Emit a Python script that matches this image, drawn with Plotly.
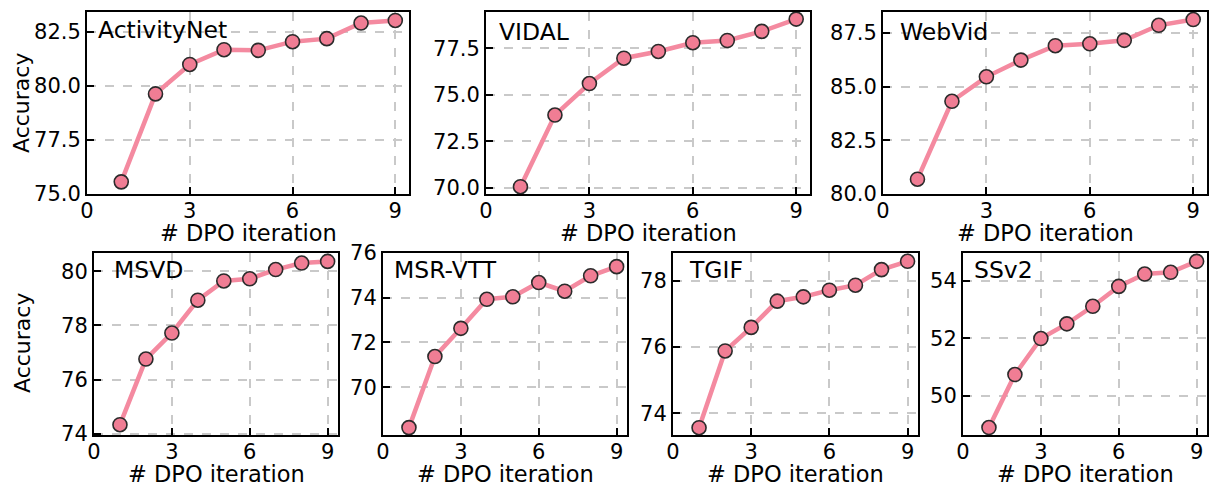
import plotly.graph_objects as go

W, H = 1210, 490

iterations = [1, 2, 3, 4, 5, 6, 7, 8, 9]

names = ["ActivityNet", "VIDAL", "WebVid", "MSVD", "MSR-VTT", "TGIF", "SSv2"]

activitynet = [75.56, 79.62, 80.98, 81.66, 81.63, 82.03, 82.17, 82.89, 83.01]
vidal = [70.07, 73.92, 75.61, 76.97, 77.33, 77.80, 77.92, 78.41, 79.07]
webvid = [80.69, 84.32, 85.46, 86.24, 86.91, 87.00, 87.16, 87.86, 88.13]
msvd = [74.34, 76.76, 77.72, 78.93, 79.64, 79.72, 80.06, 80.30, 80.36]
msrvtt = [68.19, 71.37, 72.63, 73.93, 74.04, 74.68, 74.29, 74.98, 75.39]
tgif = [73.57, 75.88, 76.59, 77.38, 77.51, 77.71, 77.86, 78.33, 78.58]
ssv2 = [48.90, 50.74, 51.99, 52.50, 53.11, 53.80, 54.23, 54.29, 54.67]

series = [activitynet, vidal, webvid, msvd, msrvtt, tgif, ssv2]

x_ticks = [0, 3, 6, 9]
y_ticks = [
    [75.0, 77.5, 80.0, 82.5],
    [70.0, 72.5, 75.0, 77.5],
    [80.0, 82.5, 85.0, 87.5],
    [74, 76, 78, 80],
    [70, 72, 74, 76],
    [74, 76, 78],
    [50, 52, 54],
]
y_tick_fmt = [".1f", ".1f", ".1f", "d", "d", "d", "d"]

y_ranges = [
    [75.0, 83.4],
    [69.68, 79.45],
    [80.0, 88.48],
    [73.96, 80.67],
    [67.86, 76.0],
    [73.35, 78.83],
    [48.64, 54.96],
]

# pixel boxes of each panel: (left, right, top, bottom)
boxes = [
    (87, 409, 12, 194),
    (486, 810, 12, 194),
    (883, 1207, 12, 194),
    (94, 338, 253, 435),
    (383, 627, 253, 435),
    (673, 918, 253, 435),
    (963, 1207, 253, 435),
]
label_pos = [
    (96, 30), (497, 32), (898, 32),
    (112, 270), (392, 270), (687, 270), (972, 270),
]

LINE = "#f48aa0"
FILL = "#f07d94"
FONT = "DejaVu Sans"

fig = go.Figure()
annotations = []
for i, (vals, box) in enumerate(zip(series, boxes)):
    n = i + 1
    xa = "x" if n == 1 else f"x{n}"
    ya = "y" if n == 1 else f"y{n}"
    fig.add_trace(go.Scatter(
        x=iterations, y=vals, xaxis=xa, yaxis=ya, mode="lines+markers",
        line=dict(color=LINE, width=4.5),
        marker=dict(size=14, color=FILL, line=dict(color="#2b2b2b", width=1.6)),
        showlegend=False, hoverinfo="skip", cliponaxis=False,
    ))
    l, r, t, b = box
    common = dict(
        showline=True, mirror=True, linecolor="black", linewidth=2,
        ticks="inside", ticklen=7, tickwidth=1.5, tickcolor="black",
        showgrid=True, gridcolor="#c9c9c9", griddash="dash", gridwidth=1.5,
        zeroline=False, automargin=False,
        tickfont=dict(family=FONT, size=21, color="black"),
    )
    fig.update_layout(**{
        ("xaxis" if n == 1 else f"xaxis{n}"): dict(
            domain=[l / W, r / W], anchor=ya, range=[0, 9.4],
            tickvals=x_ticks, ticklabelstandoff=-3, **common),
        ("yaxis" if n == 1 else f"yaxis{n}"): dict(
            domain=[1 - b / H, 1 - t / H], anchor=xa, range=y_ranges[i],
            tickvals=y_ticks[i], tickformat=y_tick_fmt[i], **common),
    })
    annotations.append(dict(
        text="# DPO iteration", xref="paper", yref="paper",
        x=(l + r) / 2 / W, y=1 - (b + 39) / H, xanchor="center", yanchor="middle",
        showarrow=False, font=dict(family=FONT, size=22.5, color="black")))
    lx, ly = label_pos[i]
    annotations.append(dict(
        text=names[i], xref="paper", yref="paper",
        x=lx / W, y=1 - ly / H, xanchor="left", yanchor="middle",
        showarrow=False, font=dict(family=FONT, size=23.5, color="black")))

for cy in [103, 343]:
    annotations.append(dict(
        text="Accuracy", xref="paper", yref="paper", textangle=-90,
        x=22 / W, y=1 - cy / H, xanchor="center", yanchor="middle",
        showarrow=False, font=dict(family=FONT, size=22, color="black")))

fig.update_layout(
    width=W, height=H, margin=dict(l=0, r=0, t=0, b=0, autoexpand=False),
    paper_bgcolor="white", plot_bgcolor="white",
    annotations=annotations,
)

fig.write_html("out.html", config={"displayModeBar": False},
               post_script="document.body.style.margin='0';document.body.style.padding='0';document.body.style.overflow='hidden';")
